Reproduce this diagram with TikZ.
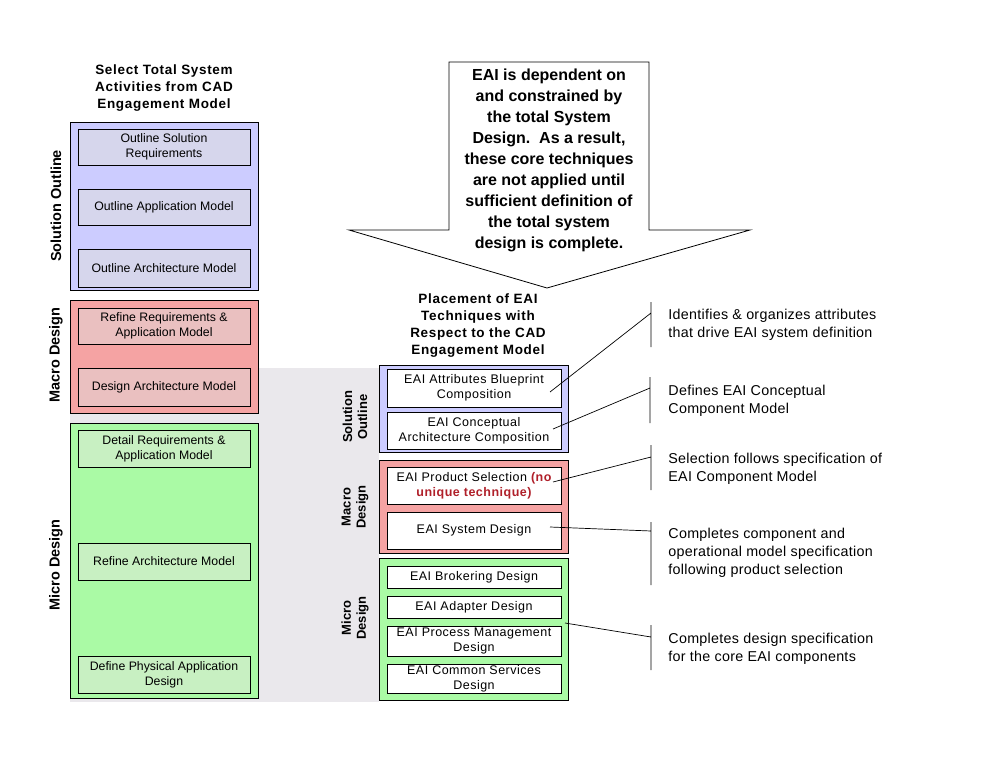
\documentclass[tikz,border=0pt]{standalone}
\usepackage[svgnames, dvipsnames]{xcolor}
\usepackage{fontspec}
\setmainfont{Liberation Sans}
\usetikzlibrary{calc, arrows.meta}
\tikzset{>=latex}
\definecolor{soblue}{RGB}{204,204,255}
\definecolor{mared}{RGB}{245,163,163}
\definecolor{migreen}{RGB}{170,250,165}
\definecolor{sostep}{RGB}{214,214,236}
\definecolor{mastep}{RGB}{234,192,192}
\definecolor{mistep}{RGB}{200,240,194}
\definecolor{band}{RGB}{234,232,236}
\definecolor{techred}{RGB}{176,32,42}

\begin{document}
\begin{tikzpicture}[x=1pt, y=-1pt, line width=0.8pt,
  phase/.style={draw, inner sep=0pt, minimum width=188},
  lstep/.style={draw, inner sep=0pt, minimum width=172, align=center, font=\fontsize{12.3}{15}\selectfont},
  tech/.style={draw, fill=white, inner sep=0pt, minimum width=174, align=center,
    font=\fontsize{12.5}{15}\selectfont\addfontfeature{LetterSpace=4}},
  phaselabel/.style={rotate=90, align=center, font=\bfseries\fontsize{14.5}{15}\selectfont},
  title/.style={align=center, font=\bfseries\fontsize{13.5}{17}\selectfont\addfontfeature{LetterSpace=5}},
  note/.style={anchor=west, inner sep=0pt, align=left,
    font=\fontsize{14.3}{18}\selectfont\addfontfeature{LetterSpace=2}},
  bar/.style={line width=0.7pt}]
\useasboundingbox (0,0) rectangle (993,768);
\fill[band] (70,368) rectangle (379,702);

% left column
\node[title] (ltitle) at (164,88) {Select Total System\\Activities from CAD\\Engagement Model};
\node[phase, fill=soblue, minimum height=168] (lso) at (164,206) {};
\node[phase, fill=mared, minimum height=113] (lma) at (164,356.5) {};
\node[phase, fill=migreen, minimum height=275] (lmi) at (164,560.5) {};
\node[phaselabel] (lsolab) at (56,206) {Solution Outline};
\node[phaselabel] (lmalab) at (56,355) {Macro Design};
\node[phaselabel] (lmilab) at (56,565) {Micro Design};

\node[lstep, fill=sostep, minimum height=36] (osr) at (164,147) {Outline Solution\\Requirements};
\node[lstep, fill=sostep, minimum height=36] (oam) at (164,207) {Outline Application Model};
\node[lstep, fill=sostep, minimum height=38] (oarm) at (164,268) {Outline Architecture Model};
\node[lstep, fill=mastep, minimum height=36] (rram) at (164,326) {Refine Requirements \&\\Application Model};
\node[lstep, fill=mastep, minimum height=38] (dam) at (164,387) {Design Architecture Model};
\node[lstep, fill=mistep, minimum height=37] (dram) at (164,448.5) {Detail Requirements \&\\Application Model};
\node[lstep, fill=mistep, minimum height=37] (ram) at (164,561.5) {Refine Architecture Model};
\node[lstep, fill=mistep, minimum height=37] (dpad) at (164,674.5) {Define Physical Application\\Design};

% dependency arrow
\draw[fill=white] (449,62) -- (649,62) -- (649,230) -- (750,230) -- (547,288)
  -- (349,230) -- (449,230) -- cycle;
\node[align=center, font=\bfseries\fontsize{16}{21}\selectfont] (dep) at (549,160)
  {EAI is dependent on\\and constrained by\\the total System\\Design.\ \ As a result,\\these core techniques\\are not applied until\\sufficient definition of\\the total system\\design is complete.};

% right column
\node[title] (rtitle) at (478,326) {Placement of EAI\\Techniques with\\Respect to the CAD\\Engagement Model};
\node[phase, fill=soblue, minimum width=189, minimum height=87] (rso) at (473.5,408.5) {};
\node[phase, fill=mared, minimum width=189, minimum height=93] (rma) at (473.5,506.5) {};
\node[phase, fill=migreen, minimum width=189, minimum height=142] (rmi) at (473.5,629) {};
\node[phaselabel, font=\bfseries\fontsize{13}{15}\selectfont] (rsolab) at (355,417) {Solution\\Outline};
\node[phaselabel, font=\bfseries\fontsize{13}{15}\selectfont] (rmalab) at (355,507) {Macro\\Design};
\node[phaselabel, font=\bfseries\fontsize{13}{15}\selectfont] (rmilab) at (355,618) {Micro\\Design};

\node[tech, minimum height=38] (attr) at (474,388) {EAI Attributes Blueprint\\Composition};
\node[tech, minimum height=37] (conc) at (474,430.5) {EAI Conceptual\\Architecture Composition};
\node[tech, minimum height=37] (prod) at (474,485.5) {EAI Product Selection \textcolor{techred}{\bfseries (no}\\\textcolor{techred}{\bfseries unique technique)}};
\node[tech, minimum height=37] (sysd) at (474,530.5) {EAI System Design};
\node[tech, minimum height=22] (brok) at (474,577) {EAI Brokering Design};
\node[tech, minimum height=22] (adap) at (474,607) {EAI Adapter Design};
\node[tech, minimum height=30] (proc) at (474,641) {EAI Process Management\\Design};
\node[tech, minimum height=29] (comm) at (474,678.5) {EAI Common Services\\Design};

% notes
\node[note] (n1) at (668,325) {Identifies \& organizes attributes\\that drive EAI system definition};
\node[note] (n2) at (668,401) {Defines EAI Conceptual\\Component Model};
\node[note] (n3) at (668,469) {Selection follows specification of\\EAI Component Model};
\node[note] (n4) at (668,553) {Completes component and\\operational model specification\\following product selection};
\node[note] (n5) at (668,649) {Completes design specification\\for the core EAI components};

\coordinate (b1t) at (651,302); \coordinate (b1b) at (651,347); \coordinate (b1m) at (651,313);
\coordinate (b2t) at (650,377); \coordinate (b2b) at (650,423); \coordinate (b2m) at (650,388);
\coordinate (b3t) at (651,445); \coordinate (b3b) at (651,490); \coordinate (b3m) at (651,457);
\coordinate (b4t) at (651,522); \coordinate (b4b) at (651,585); \coordinate (b4m) at (651,531);
\coordinate (b5t) at (651,625); \coordinate (b5b) at (651,670); \coordinate (b5m) at (651,637);
\coordinate (a1) at (550,392); \coordinate (a2) at (553,429); \coordinate (a3) at (553,482);
\coordinate (a4) at (550,527); \coordinate (a5) at (565,623);
\foreach \i in {1,...,5}
  \draw[bar] (b\i t) -- (b\i b) (a\i) -- (b\i m);
\end{tikzpicture}
\end{document}
